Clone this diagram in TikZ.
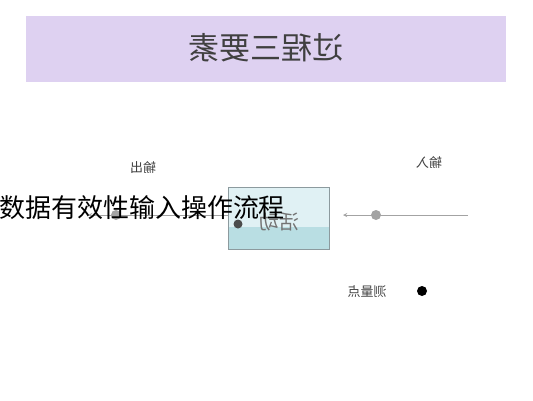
\documentclass[tikz,border=0pt]{standalone}
\usepackage{fontspec}
\newfontfamily\cjk{Noto Sans CJK SC}
\usetikzlibrary{calc}
\definecolor{band}{HTML}{DED1F1}
\definecolor{boxtop}{HTML}{E0F1F4}
\definecolor{boxbottom}{HTML}{B9DEE3}
\definecolor{boxline}{HTML}{8C9A9E}
\definecolor{flowgray}{HTML}{A3A3A3}

\begin{document}
\begin{tikzpicture}[x=1pt,y=-1pt,
  mirror/.style={xscale=-1,inner sep=0pt,text=black!75,font=\cjk\fontsize{13}{13}\selectfont},
  flow/.style={draw=flowgray,line width=0.9pt,-stealth},
  dot/.style={fill=flowgray}]
\useasboundingbox (0,0) rectangle (533,400);

\fill[band] (26,16) rectangle (506,82);
\node [mirror,font=\cjk\fontsize{31}{31}\selectfont] (title) at (266,48) {过程三要素};

\coordinate (BoxNW) at (228,187);
\coordinate (BoxMid) at (329,227);
\coordinate (BoxSE) at (329,249);
\fill[boxtop] (BoxNW) rectangle (BoxMid);
\fill[boxbottom] (BoxNW |- BoxMid) rectangle (BoxSE);
\draw[boxline] (BoxNW) rectangle (BoxSE);
\node [mirror,text=black!55,font=\cjk\fontsize{20}{20}\selectfont] (act) at (279,222) {活动};
\fill[black!70] (238,224) circle [radius=4.5];

\coordinate (InStart) at (468,215);
\coordinate (InEnd) at (343,215);
\draw[flow] (InStart) -- (InEnd);
\fill[dot] (376,215) circle [radius=5];
\node [mirror] (inlabel) at (429,163) {输入};

\coordinate (OutStart) at (BoxNW |- InEnd);
\coordinate (OutEnd) at (88,215);
\draw[flow] (OutStart) -- (OutEnd);
\fill[dot] (116,215) circle [radius=5];
\node [mirror] (outlabel) at (143,168) {输出};

\fill[black] (422,291) circle [radius=5];
\node [mirror] (measure) at (367,292) {测量点};

\node [inner sep=0pt,font=\cjk\fontsize{26}{26}\selectfont] (caption) at (142,208) {数据有效性输入操作流程};

\end{tikzpicture}
\end{document}
